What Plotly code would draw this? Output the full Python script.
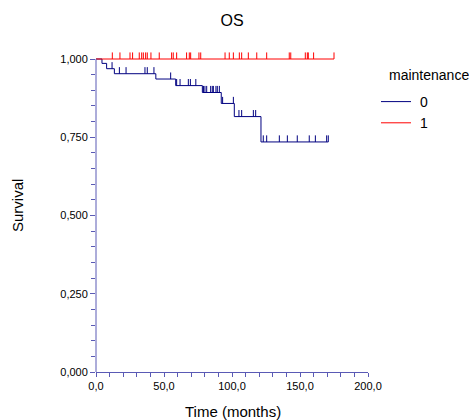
import plotly.graph_objects as go

# Kaplan-Meier overall survival by maintenance group
# group 0: event times (months) and survival after each event
g0_event_times = [4.4, 7.8, 13.5, 44.0, 58.6, 78.2, 92.1, 101.7, 121.3]
g0_survival = [0.986, 0.969, 0.953, 0.936, 0.915, 0.893, 0.858, 0.816, 0.735]
g0_censored = [11.8, 17.2, 22.1, 36.0, 37.7, 42.6, 54.9,
               59.3, 61.8, 67.9, 69.4, 73.4,
               79.0, 80.1, 81.4, 84.3, 85.5, 86.3, 88.2, 89.2, 90.7,
               93.1, 101.0, 105.1, 107.1, 115.7, 117.4,
               123.0, 125.5, 134.8, 140.7, 148.0, 156.8, 161.3, 169.6, 170.8]

# group 1: no events, censored follow-up times (months)
g1_censored = [12.0, 17.6, 25.0, 26.9, 31.8, 33.6, 34.8, 36.5, 37.7, 40.4,
               46.5, 55.6, 56.8, 59.3, 66.6, 68.6, 69.6, 75.7, 77.0, 94.9,
               98.0, 101.0, 105.4, 107.1, 112.0, 118.2, 125.5, 142.1, 143.2,
               153.9, 155.4, 156.1, 160.0, 175.0]

x_tick_vals = [0, 50, 100, 150, 200]
x_tick_text = ["0,0", "50,0", "100,0", "150,0", "200,0"]
y_tick_vals = [0, 0.25, 0.5, 0.75, 1.0]
y_tick_text = ["0,000", "0,250", "0,500", "0,750", "1,000"]

NAVY = "#000080"
RED = "#FF0000"
AXIS = "#5A5AB5"
FONT = "Liberation Sans, Arial, sans-serif"
TICK_H = 0.021  # height of censor marks in survival units

W, H = 469, 420
ML, MR, MT, MB = 96, 101, 50, 48
PW, PH = W - ML - MR, H - MT - MB


def px_x(p):
    return (p - ML) / PW


def px_y(p):
    return (H - MB - p) / PH


def step_curve(times, surv, end_time):
    xs = [0.0] + list(times) + [end_time]
    ys = [1.0] + list(surv) + [surv[-1] if surv else 1.0]
    return xs, ys


def surv_at(t, times, surv):
    s = 1.0
    for ti, si in zip(times, surv):
        if ti <= t:
            s = si
    return s


def censor_marks(cens, times, surv):
    xs, ys = [], []
    for c in cens:
        s = surv_at(c, times, surv)
        xs += [c, c, None]
        ys += [s, s + TICK_H, None]
    return xs, ys


fig = go.Figure()

x0, y0 = step_curve(g0_event_times, g0_survival, max(g0_censored))
x1, y1 = step_curve([], [], max(g1_censored))

fig.add_trace(go.Scatter(x=x0, y=y0, mode="lines", line=dict(color=NAVY, width=1, shape="hv"),
                         name=" 0", legendgroup="0", hoverinfo="skip"))
fig.add_trace(go.Scatter(x=x1, y=y1, mode="lines", line=dict(color=RED, width=1, shape="hv"),
                         name=" 1", legendgroup="1", hoverinfo="skip"))

cx0, cy0 = censor_marks(g0_censored, g0_event_times, g0_survival)
cx1, cy1 = censor_marks(g1_censored, [], [])
fig.add_trace(go.Scatter(x=cx0, y=cy0, mode="lines", line=dict(color=NAVY, width=1),
                         showlegend=False, legendgroup="0", hoverinfo="skip"))
fig.add_trace(go.Scatter(x=cx1, y=cy1, mode="lines", line=dict(color=RED, width=1),
                         showlegend=False, legendgroup="1", hoverinfo="skip"))

# y-axis line spanning 0..1 only
fig.add_shape(type="line", xref="paper", yref="y", x0=0, x1=0, y0=0, y1=1,
              line=dict(color=AXIS, width=1), layer="above")

fig.update_layout(
    width=W, height=H,
    margin=dict(l=ML, r=MR, t=MT, b=MB, autoexpand=False),
    paper_bgcolor="white", plot_bgcolor="white",
    font=dict(family=FONT, color="black", size=11),
    title=dict(text="OS", x=0.5, xref="paper", xanchor="center",
               y=1 - 20 / H, yanchor="middle", font=dict(size=16)),
    showlegend=True,
    legend=dict(x=px_x(376), xanchor="left", y=px_y(86), yanchor="top",
                font=dict(size=14), bgcolor="rgba(0,0,0,0)", tracegroupgap=0),
    annotations=[
        dict(text="maintenance", xref="paper", yref="paper",
             x=px_x(387), xanchor="left", y=px_y(75), yanchor="middle",
             showarrow=False, font=dict(size=14)),
        dict(text="Time (months)", xref="paper", yref="paper",
             x=px_x(233), xanchor="center", y=px_y(411), yanchor="middle",
             showarrow=False, font=dict(size=15)),
        dict(text="Survival", xref="paper", yref="paper", textangle=-90,
             x=px_x(17), xanchor="center", y=px_y(206), yanchor="middle",
             showarrow=False, font=dict(size=15)),
    ],
)

fig.update_xaxes(
    range=[0, 200], tickvals=x_tick_vals, ticktext=x_tick_text,
    ticks="outside", ticklen=4, tickcolor=AXIS, tickwidth=1,
    minor=dict(tickvals=list(range(10, 200, 10)), ticks="outside", ticklen=4,
               tickcolor=AXIS, tickwidth=1, showgrid=False),
    showline=True, linecolor=AXIS, linewidth=1,
    showgrid=False, zeroline=False, automargin=False,
)
fig.update_yaxes(
    range=[0, PH / 313], tickvals=y_tick_vals, ticktext=y_tick_text,
    ticks="outside", ticklen=5, tickcolor=AXIS, tickwidth=1,
    minor=dict(tickvals=[i / 20 for i in range(1, 20)], ticks="outside", ticklen=4,
               tickcolor=AXIS, tickwidth=1, showgrid=False),
    showline=False, showgrid=False, zeroline=False, automargin=False,
)

fig.write_html("out.html")
